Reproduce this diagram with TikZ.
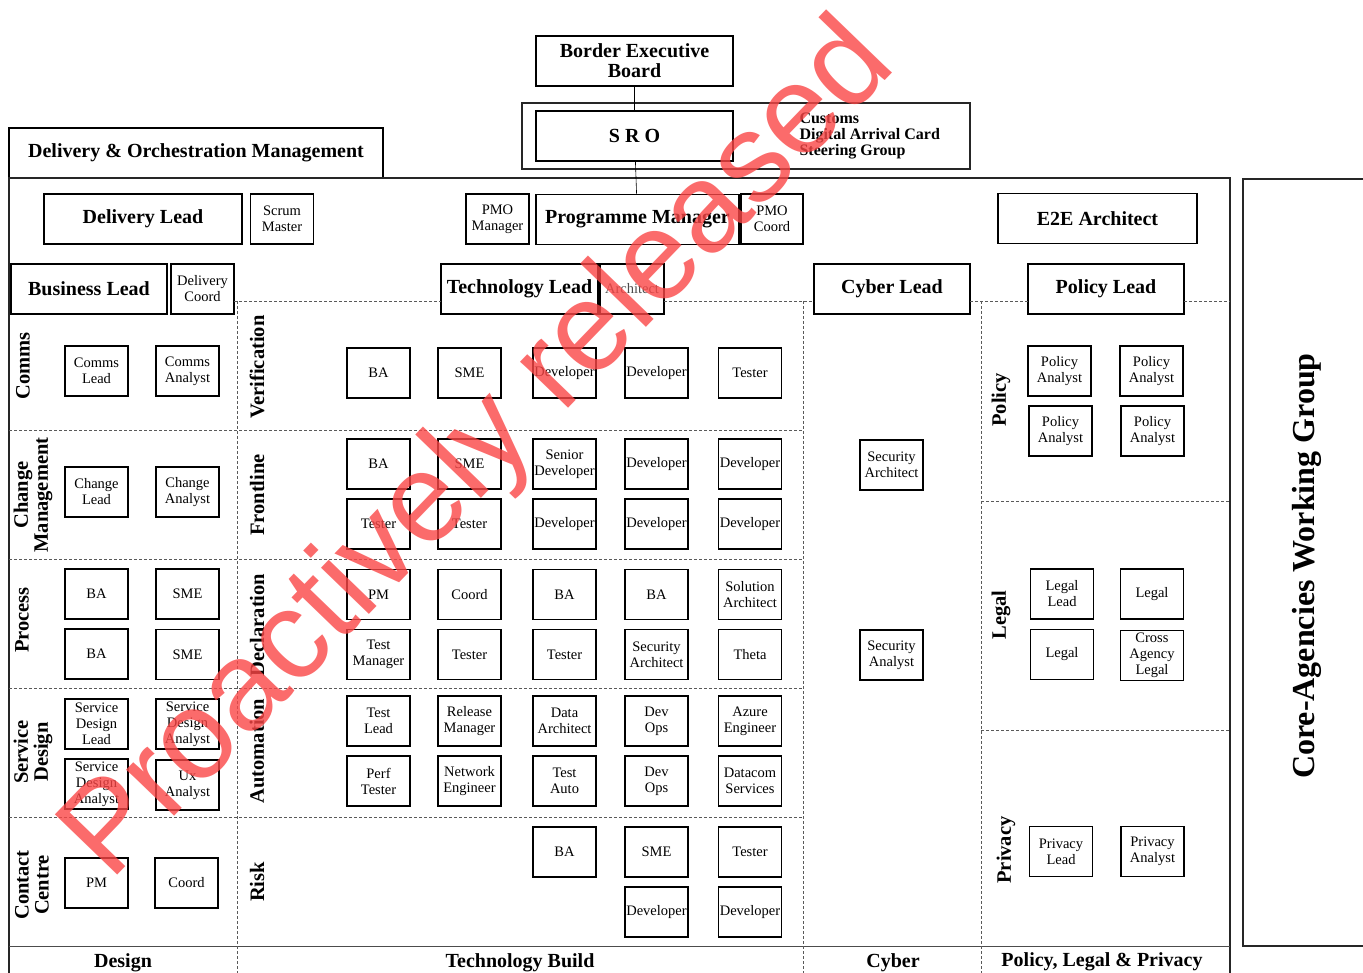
\documentclass[tikz,border=0pt]{standalone}
\usepackage{fontspec}
\setmainfont{Liberation Serif}
\newfontfamily\wmfont{Liberation Sans}
\definecolor{wmred}{RGB}{250,70,70}
\begin{document}
\begin{tikzpicture}[x=1pt,y=-1pt,
    role/.style={draw, line width=1.3pt, minimum width=63pt, minimum height=50pt, inner sep=0pt, align=center, font=\fontsize{14.5}{16}\selectfont},
    lead/.style={draw, line width=1.3pt, minimum height=50pt, inner sep=0pt, align=center, font=\fontsize{20}{20}\selectfont\bfseries},
    sect/.style={rotate=90, align=center, font=\fontsize{20.5}{20}\selectfont\bfseries},
    colname/.style={font=\fontsize{20}{20}\selectfont\bfseries},
    sep/.style={densely dashed, black!65, line width=0.6pt},
    frame/.style={line width=1.3pt, black!85},
]
\useasboundingbox (0,0) rectangle (1363,973);
        % board and steering group
            \node[lead, minimum width=197pt] (beb) at (634.5,61) {Border Executive\\Board};
            \node[draw, frame, minimum width=448pt, minimum height=66pt] (steer) at (746,136) {};
            \node[lead, minimum width=197pt] (sro) at (634.5,136) {S R O};
            \node[anchor=west, align=left, font=\fontsize{16}{16}\selectfont\bfseries] (customs) at (796,136) {Customs\\Digital Arrival Card\\Steering Group};
        % frames
            \node[lead, minimum width=374pt, font=\fontsize{20}{20}\selectfont\bfseries] (dom) at (196,153) {Delivery \& Orchestration Management};
            \draw[frame] (9,975) -- (9,178) -- (1230,178) -- (1230,975);
            \draw[frame] (1364,179) -- (1243,179) -- (1243,946) -- (1364,946);
            \node[rotate=90, font=\fontsize{32}{32}\selectfont\bfseries] (cawg) at (1307,566) {Core-Agencies Working Group};
            \draw[line width=0.8pt, black!70] (9,946) -- (1230,946);
        % leads
            \node[lead, minimum width=198pt] (dlead) at (143,219) {Delivery Lead};
            \node[role] (scrum) at (282,219) {Scrum\\Master};
            \node[role] (pmom) at (497.5,219) {PMO\\Manager};
            \node[lead, minimum width=203pt] (pgm) at (637.5,219.5) {Programme Manager};
            \node[role, minimum width=62pt] (pmoc) at (772,219) {PMO\\Coord};
            \node[lead, minimum width=199pt] (e2e) at (1097.5,218.5) {E2E Architect};
            \node[lead, minimum width=156pt] (blead) at (89,289) {Business Lead};
            \node[role] (dcoord) at (202.5,289) {Delivery\\Coord};
            \node[lead, minimum width=157pt] (tlead) at (519.5,289) {Technology Lead};
            \node[role, minimum width=64pt, text=black!70] (arch) at (632,289) {Architect};
            \node[lead, minimum width=156pt] (clead) at (892,289) {Cyber Lead};
            \node[lead, minimum width=156pt] (plead) at (1106,289) {Policy Lead};
        % reporting line
            \draw[line width=0.6pt] (beb) -- (sro);
            \draw[line width=0.6pt] (sro) -- (pgm);
        % separators
            \draw[sep] (234,301) -- (441,301);
            \draw[sep] (664,301) -- (814,301);
            \draw[sep] (970,301) -- (1028,301);
            \draw[sep] (1184,301) -- (1230,301);
            \foreach \x in {237,803,981}
                \draw[sep] (\x,301) -- (\x,975);
            \foreach \y in {430,559,688,817}
                \draw[sep] (9,\y) -- (803,\y);
            \foreach \y in {501,730}
                \draw[sep] (981,\y) -- (1230,\y);
        % section names
            \foreach \x/\y/\txt in {23/366/Comms, 33/495/{Change\\Management}, 22/620/Process,
                33/752/{Service\\Design}, 32/885/{Contact\\Centre}, 257/367/Verification,
                257/495/Frontline, 257/625/Declaration, 257/751/Automation, 257/882/Risk,
                1001/400/Policy, 1001/615/Legal, 1006/850/Privacy}
                \node[sect] at (\x,\y) {\txt};
        % design
            \foreach \n/\x/\y/\txt in {cl/96.5/371/{Comms\\Lead}, ca/187.5/371/{Comms\\Analyst},
                chl/96.5/492/{Change\\Lead}, cha/187.5/492/{Change\\Analyst},
                pba/96.5/594/BA, psme/187.5/594/SME, pbb/96.5/654/BA, psmf/187.5/654.5/SME,
                sdl/96.5/724/{Service\\Design\\Lead}, sda/187.5/724/{Service\\Design\\Analyst},
                sdb/96.5/784/{Service\\Design\\Analyst}, ux/187.5/785/{Ux\\Analyst},
                ccpm/96.5/883/PM, ccco/186.5/883/Coord}
                \node[role] (\n) at (\x,\y) {\txt};
        % technology build
            \foreach \n/\x/\y/\txt in {v1/378.5/373/BA, v2/469.5/373/SME, v3/564.5/373/Developer,
                v4/656.5/373/Developer, v5/750/373/Tester,
                f1/378.5/464/BA, f2/469.5/464/SME, f3/564.5/464/{Senior\\Developer},
                f4/656.5/464/Developer, f5/750/464/Developer,
                f6/378.5/524/Tester, f7/469.5/524/Tester, f8/564.5/524/Developer,
                f9/656.5/524/Developer, f10/750/524/Developer,
                d1/378.5/594.5/PM, d2/469.5/594.5/Coord, d3/564.5/594.5/BA,
                d4/656.5/594.5/BA, d5/750/594.5/{Solution\\Architect},
                d6/378.5/654.5/{Test\\Manager}, d7/469.5/654.5/Tester, d8/564.5/654.5/Tester,
                d9/656.5/654.5/{Security\\Architect}, d10/750/654.5/Theta,
                a1/378.5/721/{Test\\Lead}, a2/469.5/721/{Release\\Manager}, a3/564.5/721/{Data\\Architect},
                a4/656.5/721/{Dev\\Ops}, a5/750/721/{Azure\\Engineer},
                a6/378.5/781/{Perf\\Tester}, a7/469.5/781/{Network\\Engineer}, a8/564.5/781/{Test\\Auto},
                a9/656.5/781/{Dev\\Ops}, a10/750/781/{Datacom\\Services},
                r1/564.5/852/BA, r2/656.5/852/SME, r3/750/852/Tester,
                r4/656.5/912/Developer, r5/750/912/Developer}
                \node[role] (\n) at (\x,\y) {\txt};
        % cyber
            \node[role] (sarch) at (891.5,465) {Security\\Architect};
            \node[role] (sanal) at (891.5,655) {Security\\Analyst};
        % policy, legal and privacy
            \foreach \n/\x/\y/\txt in {pa1/1059.5/371/{Policy\\Analyst}, pa2/1151.5/371/{Policy\\Analyst},
                pa3/1060.5/431/{Policy\\Analyst}, pa4/1152.5/431/{Policy\\Analyst},
                ll/1062/594/{Legal\\Lead}, lg1/1152/594/Legal, lg2/1062/654.5/Legal,
                cal/1152/655.5/{Cross\\Agency\\Legal},
                prl/1061/851.5/{Privacy\\Lead}, pra/1152.5/851.5/{Privacy\\Analyst}}
                \node[role] (\n) at (\x,\y) {\txt};
        % column names
            \node[colname] (design) at (123,963) {Design};
            \node[colname] (techb) at (520,963) {Technology Build};
            \node[colname] (cyber) at (893,963) {Cyber};
            \node[colname] (plp) at (1102,962) {Policy, Legal \& Privacy};
        % watermark
            \node[rotate=46, text=wmred, opacity=0.8, font=\wmfont\fontsize{126}{126}\selectfont] (wm) at (481,452) {Proactively released};
\end{tikzpicture}
\end{document}
